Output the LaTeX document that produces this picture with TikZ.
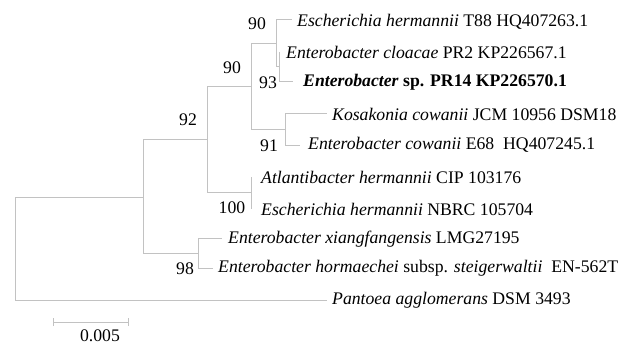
\documentclass[tikz,border=0pt]{standalone}
\usepackage{fontspec}
\setmainfont{Liberation Serif}
\begin{document}
\begin{tikzpicture}[x=1pt,y=-1pt,
  br/.style={draw=black!24,line width=1pt},
  tip/.style={anchor=west,inner sep=0pt,font=\fontsize{17.7}{20}\selectfont},
  boot/.style={inner sep=0pt,font=\fontsize{17.7}{20}\selectfont}]
\useasboundingbox (0,0) rectangle (619,345);
% internal nodes
\coordinate (R1) at (15,197); \coordinate (R2) at (15,300);
\coordinate (A1) at (143,139); \coordinate (A0) at (143,197); \coordinate (A2) at (143,253);
\coordinate (B1) at (207,87); \coordinate (B0) at (207,139); \coordinate (B2) at (207,192);
\coordinate (C1) at (251,44); \coordinate (C0) at (251,87); \coordinate (C2) at (251,129);
\coordinate (D1) at (276,20); \coordinate (D0) at (276,44); \coordinate (D2) at (276,67);
\coordinate (E1) at (279,52); \coordinate (E0) at (279,67); \coordinate (E2) at (279,82);
\coordinate (F1) at (285,114); \coordinate (F0) at (285,129); \coordinate (F2) at (285,145);
\coordinate (G1) at (251,177); \coordinate (G0) at (251,192); \coordinate (G2) at (251,209);
\coordinate (H1) at (198,238); \coordinate (H0) at (198,253); \coordinate (H2) at (198,268);
% tip ends
\coordinate (tT88) at (292,20);
\coordinate (tPR14) at (293,82);
\coordinate (tKos) at (327,114);
\coordinate (tCow) at (300,145);
\coordinate (tXia) at (222,238);
\coordinate (tHor) at (213,268);
\coordinate (tPan) at (327,300);
% branches
\draw[br] (R1) -- (R2);
\draw[br] (R1) -- (A0);
\draw[br] (R2) -- (tPan);
\draw[br] (A1) -- (A2);
\draw[br] (A1) -- (B0);
\draw[br] (A2) -- (H0);
\draw[br] (B1) -- (B2);
\draw[br] (B1) -- (C0);
\draw[br] (B2) -- (G0);
\draw[br] (C1) -- (C2);
\draw[br] (C1) -- (D0);
\draw[br] (C2) -- (F0);
\draw[br] (D1) -- (D2);
\draw[br] (D1) -- (tT88);
\draw[br] (D2) -- (E0);
\draw[br] (E1) -- (E2);
\draw[br] (E2) -- (tPR14);
\draw[br] (F1) -- (F2);
\draw[br] (F1) -- (tKos);
\draw[br] (F2) -- (tCow);
\draw[br] (G1) -- (G2);
\draw[br] (H1) -- (H2);
\draw[br] (H1) -- (tXia);
\draw[br] (H2) -- (tHor);
% tip labels
\node[tip] (lT88) at (297,22) {\textit{Escherichia hermannii} T88 HQ407263.1};
\node[tip] (lClo) at (286,52) {\textit{Enterobacter cloacae} PR2 KP226567.1};
\node[tip] (lPR14) at (303,82) {\textbf{\textit{Enterobacter} sp. PR14 KP226570.1}};
\node[tip] (lKos) at (332,114) {\textit{Kosakonia cowanii} JCM 10956 DSM18};
\node[tip] (lCow) at (308,145) {\textit{Enterobacter cowanii} E68\ \ HQ407245.1};
\node[tip] (lAtl) at (261,177) {\textit{Atlantibacter hermannii} CIP 103176};
\node[tip] (lNbr) at (261,209) {\textit{Escherichia hermannii} NBRC 105704};
\node[tip] (lXia) at (228,239) {\textit{Enterobacter xiangfangensis} LMG27195};
\node[tip] (lHor) at (218,268) {\textit{Enterobacter hormaechei} subsp. \textit{steigerwaltii}\ \ EN-562T};
\node[tip] (lPan) at (332,300) {\textit{Pantoea agglomerans} DSM 3493};
% bootstrap values
\node[boot] (b1) at (257,24) {90};
\node[boot] (b2) at (232,68) {90};
\node[boot] (b3) at (268,83) {93};
\node[boot] (b4) at (188,120) {92};
\node[boot] (b5) at (269,146) {91};
\node[boot] (b6) at (232,208) {100};
\node[boot] (b7) at (185,269) {98};
% scale bar
\coordinate (s1) at (53,322); \coordinate (s2) at (128,322);
\draw[br] (s1) -- (s2);
\draw[br] ([yshift=-4pt]s1) -- ([yshift=4pt]s1);
\draw[br] ([yshift=-4pt]s2) -- ([yshift=4pt]s2);
\node[boot] (sl) at (100,336) {0.005};
\end{tikzpicture}
\end{document}
